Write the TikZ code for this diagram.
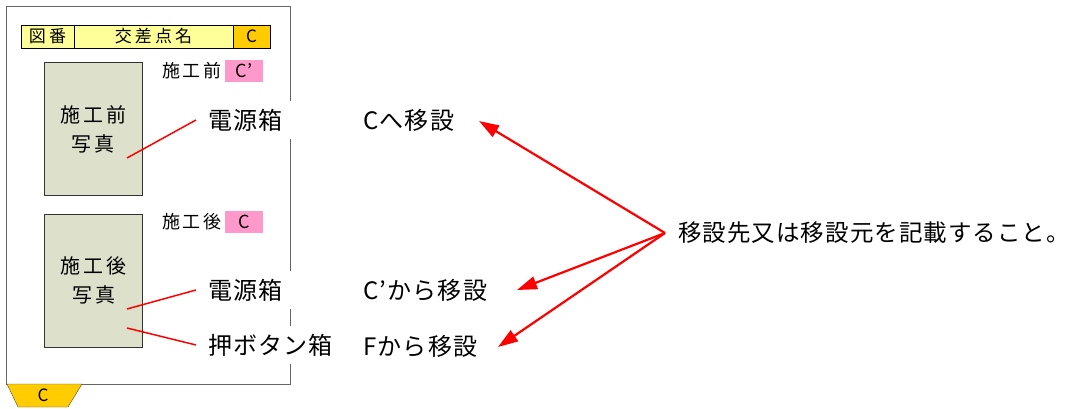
\documentclass[tikz,border=0pt]{standalone}
\usepackage{fontspec}
\setmainfont{Noto Sans CJK JP}
\newfontfamily\zuWide[LetterSpace=18]{Noto Sans CJK JP}
\newfontfamily\zuMid[LetterSpace=15]{Noto Sans CJK JP}
\newfontfamily\zuBig[LetterSpace=5]{Noto Sans CJK JP}
\newfontfamily\zuNote[LetterSpace=4.5]{Noto Sans CJK JP}
\usetikzlibrary{arrows.meta,positioning}
\definecolor{zuYellow}{HTML}{FFFF99}
\definecolor{zuOrange}{HTML}{FFCC00}
\definecolor{zuPink}{HTML}{FF99CC}
\definecolor{zuPhoto}{HTML}{DDE0CB}
\newcommand{\zuSize}[1]{\fontsize{#1}{#1}\selectfont}
\begin{document}
\begin{tikzpicture}[x=1pt,y=-1pt,
  cell/.style={draw=black, line width=0.8pt, inner sep=0pt, minimum height=23pt, font=\zuWide\zuSize{17}},
  photo/.style={draw=black!80, fill=zuPhoto, minimum width=98pt, minimum height=133pt, align=center, inner sep=0pt, font=\zuMid\zuSize{20}},
  tag/.style={fill=zuPink, minimum width=38pt, minimum height=22pt, inner sep=0pt, font=\zuSize{18}},
  stage/.style={inner sep=0pt, font=\zuMid\zuSize{18}},
  part/.style={fill=white, anchor=west, inner xsep=12pt, inner ysep=0pt, minimum height=38pt, font=\zuBig\zuSize{24}},
  move/.style={anchor=west, inner sep=0pt, font=\zuBig\zuSize{24}},
  leader/.style={red, line width=1.5pt},
  pointer/.style={red, line width=2.2pt, -{Triangle[length=20pt,width=13pt]}}]
\useasboundingbox (0,0) rectangle (1073,409);
% sheet
\draw[black!60, line width=1pt] (6,7) rectangle (290,384);
\draw[black!70, fill=zuOrange] (7,384) -- (82,384) -- (68,407) -- (18,407) -- cycle;
\node[font=\zuSize{17}, inner sep=0pt] (sheetNo) at (43,395) {C};
% title bar
\node[cell, fill=zuYellow, minimum width=53pt] (titleFig) at (47.5,36.5) {図番};
\node[cell, fill=zuYellow, minimum width=159pt] (titleName) at (153.5,36.5) {交差点名};
\node[cell, fill=zuOrange, minimum width=37pt, font=\zuSize{17}] (titleId) at (251.5,36.5) {C};
% before
\node[photo] (photoBefore) at (93,129) {施工前\\[9pt]写真};
\node[tag] (tagBefore) at (244,71) {C’};
\node[stage, left=3pt of tagBefore] (stageBefore) {施工前};
% after
\node[photo] (photoAfter) at (93.5,280.5) {施工後\\[9pt]写真};
\node[tag] (tagAfter) at (244,222) {C};
\node[stage, left=3pt of tagAfter] (stageAfter) {施工後};
% parts
\node[part] (boxPower) at (196,120) {電源箱};
\node[part] (boxPowerB) at (196,290) {電源箱};
\node[part] (boxButton) at (196,345) {押ボタン箱};
\coordinate (pinPower) at (127,158);
\coordinate (pinPowerB) at (127,309);
\coordinate (pinButton) at (127,328);
\draw[leader] (pinPower) -- (boxPower.west);
\draw[leader] (pinPowerB) -- (boxPowerB.west);
\draw[leader] (pinButton) -- (boxButton.west);
% moves
\node[move] (moveTo) at (363,120) {Cへ移設};
\node[move] (moveFrom) at (363,290) {C’から移設};
\node[move] (moveFromF) at (363,346) {Fから移設};
\node[move, font=\zuNote\zuSize{23.5}] (note) at (678,233) {移設先又は移設元を記載すること。};
\coordinate (fan) at (665,233);
\coordinate (tipTo) at (479,121);
\coordinate (tipFrom) at (517,290);
\coordinate (tipFromF) at (498,347);
\draw[pointer] (fan) -- (tipTo);
\draw[pointer] (fan) -- (tipFrom);
\draw[pointer] (fan) -- (tipFromF);
\end{tikzpicture}
\end{document}
